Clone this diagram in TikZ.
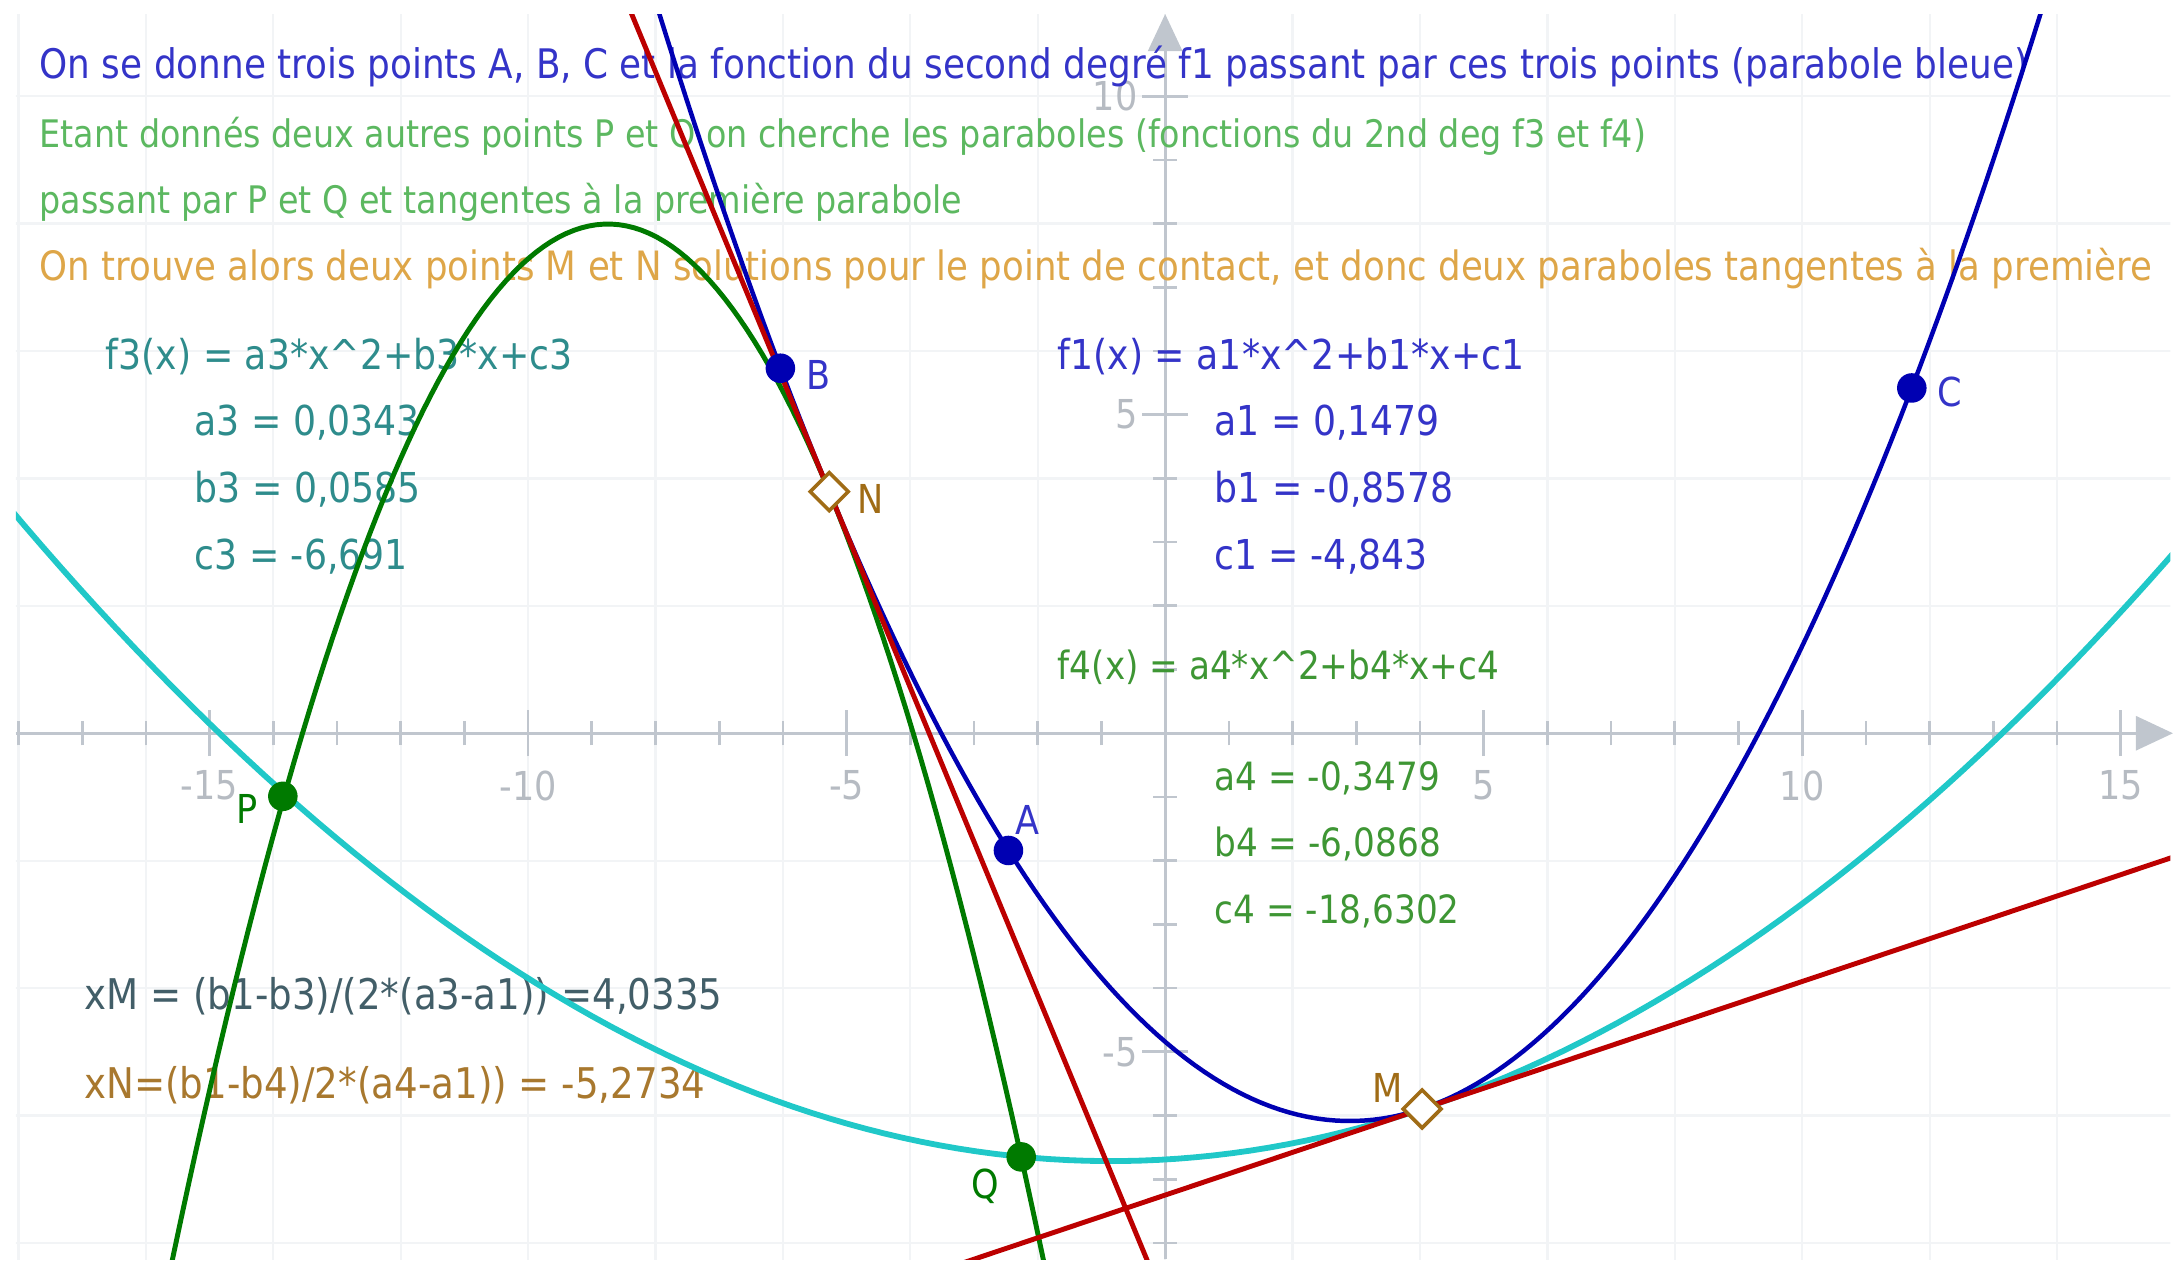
\documentclass[tikz,border=0pt]{standalone}
\usepackage{fontspec}
\setmainfont[FakeStretch=0.88]{DejaVu Sans}
\usepackage{tikz}
\usetikzlibrary{positioning,arrows.meta,shapes.geometric}

\definecolor{gridgray}{RGB}{242,244,246}
\definecolor{axisgray}{RGB}{192,198,206}
\definecolor{ticklab}{RGB}{182,187,194}
\definecolor{fblue}{RGB}{0,0,178}
\definecolor{tblue}{RGB}{52,52,200}
\definecolor{fgreen}{RGB}{0,122,0}
\definecolor{tgreen}{RGB}{92,184,96}
\definecolor{tgreenb}{RGB}{62,150,52}
\definecolor{fcyan}{RGB}{32,200,200}
\definecolor{fred}{RGB}{188,0,0}
\definecolor{torange}{RGB}{222,166,72}
\definecolor{tteal}{RGB}{46,140,140}
\definecolor{tslate}{RGB}{66,94,104}
\definecolor{tbrown}{RGB}{168,120,46}
\definecolor{pbrown}{RGB}{160,108,22}

\tikzset{
  txt/.style={anchor=west, inner sep=0pt, font=\fontsize{#1}{11}\selectfont},
  dotpt/.style={circle, fill=#1, inner sep=0pt, minimum size=6.6pt},
  contact/.style={diamond, draw=pbrown, fill=white, line width=0.8pt, inner sep=0pt, minimum width=8.8pt, minimum height=8.8pt},
  ptlab/.style={inner sep=0pt, text=#1},
  axtip/.style={-{Triangle[length=8.3pt,width=7.6pt]}}
}

\begin{document}
\begin{tikzpicture}[x=0.5cm, y=0.5cm, font=\fontsize{8.9}{10}\selectfont]
  \useasboundingbox (-18.29,-8.40) rectangle (15.82,11.51);
  % grid
  \begin{scope}
    \clip (-18.04,-8.26) rectangle (15.78,11.29);
    \draw[gridgray, line width=0.5pt] (-19,-9) grid (16,12);
  \end{scope}
  % axes
  \draw[axisgray, line width=0.7pt, axtip] (-18.04,0) -- (15.82,0);
  \draw[axisgray, line width=0.7pt, axtip] (0,-8.26) -- (0,11.29);
  \foreach \i in {-18,...,15} {\draw[axisgray, line width=0.6pt] (\i,-0.19) -- (\i,0.19);}
  \foreach \i in {-15,-10,-5,5,10,15} {\draw[axisgray, line width=0.6pt] (\i,-0.36) -- (\i,0.36);}
  \foreach \j in {-8,...,10} {\draw[axisgray, line width=0.6pt] (-0.19,\j) -- (0.19,\j);}
  \foreach \j in {-5,5,10} {\draw[axisgray, line width=0.6pt] (-0.36,\j) -- (0.36,\j);}
  \foreach \i in {-15,-10,-5,5,10,15} {\node[ticklab, inner sep=0pt] (xl\i) at (\i,-0.82) {\i};}
  \foreach \j in {-5,5,10} {\node[ticklab, anchor=east, inner sep=0pt] (yl\j) at (-0.42,\j) {\j};}

  % texts
  \node[txt=9.09, tblue] (l1) at (-17.68,10.46) {On se donne trois points A, B, C et la fonction du second degré f1 passant par ces trois points (parabole bleue)};
  \node[txt=8.47, tgreen] (l2) at (-17.68,9.37) {Etant donnés deux autres points P et Q on cherche les paraboles (fonctions du 2nd deg f3 et f4)};
  \node[txt=8.47, tgreen] (l3) at (-17.68,8.33) {passant par P et Q et tangentes à la première parabole};
  \node[txt=9.03, torange] (l4) at (-17.68,7.30) {On trouve alors deux points M et N solutions pour le point de contact, et donc deux paraboles tangentes à la première};

  \node[txt=9.2, tteal] (f3) at (-16.64,5.91) {f3(x) = a3*x\textasciicircum 2+b3*x+c3};
  \node[txt=9.2, tteal] (a3) at (-15.25,4.87) {a3 = 0,0343};
  \node[txt=9.2, tteal] (b3) at (-15.25,3.83) {b3 = 0,0585};
  \node[txt=9.2, tteal] (c3) at (-15.25,2.78) {c3 = -6,691};

  \node[txt=9.2, tblue] (f1) at (-1.70,5.91) {f1(x) = a1*x\textasciicircum 2+b1*x+c1};
  \node[txt=9.2, tblue] (a1) at (0.76,4.87) {a1 = 0,1479};
  \node[txt=9.2, tblue] (b1) at (0.76,3.83) {b1 = -0,8578};
  \node[txt=9.2, tblue] (c1) at (0.76,2.78) {c1 = -4,843};

  \node[txt=8.7, tgreenb] (f4) at (-1.70,1.04) {f4(x) = a4*x\textasciicircum 2+b4*x+c4};
  \node[txt=8.7, tgreenb] (a4) at (0.76,-0.70) {a4 = -0,3479};
  \node[txt=8.7, tgreenb] (b4) at (0.76,-1.74) {b4 = -6,0868};
  \node[txt=8.7, tgreenb] (c4) at (0.76,-2.79) {c4 = -18,6302};

  \node[txt=9.44, tslate] (xM) at (-16.98,-4.13) {xM = (b1-b3)/(2*(a3-a1)) =4,0335};
  \node[txt=9.44, tbrown] (xN) at (-16.98,-5.52) {xN=(b1-b4)/2*(a4-a1)) = -5,2734};

  % curves
  \begin{scope}
    \clip (-18.04,-8.26) rectangle (15.78,11.29);
    \draw[fcyan, line width=1.3pt] plot[domain=-18.2:16, samples=120] (\x,{0.0343*\x*\x+0.0585*\x-6.691});
    \draw[fgreen, line width=1.1pt] plot[domain=-15.8:-1.7, samples=120] (\x,{-0.3479*\x*\x-6.0868*\x-18.6302});
    \draw[fblue, line width=1pt] plot[domain=-8.1:13.9, samples=150] (\x,{0.1479*\x*\x-0.8578*\x-4.843});
    \draw[fred, line width=1.1pt] plot[domain=-3.6:16, samples=2] (\x,{-5.897+0.3353*(\x-4.0335)});
    \draw[fred, line width=1.1pt] plot[domain=-8.6:-0.2, samples=2] (\x,{3.793-2.4177*(\x+5.2734)});
  \end{scope}

  % points
  \node[dotpt=fblue] (A) at (-2.46,-1.84) {};
  \node[dotpt=fblue] (B) at (-6.04,5.73) {};
  \node[dotpt=fblue] (C) at (11.72,5.42) {};
  \node[dotpt=fgreen] (P) at (-13.85,-0.99) {};
  \node[dotpt=fgreen] (Q) at (-2.26,-6.65) {};
  \node[contact] (N) at (-5.2734,3.793) {};
  \node[contact] (M) at (4.0335,-5.897) {};

  \node[ptlab=tblue, xshift=4.3pt, yshift=6.8pt] (labA) at (A) {A};
  \node[ptlab=tblue, xshift=8.5pt, yshift=-1.4pt] (labB) at (B) {B};
  \node[ptlab=tblue, xshift=8.5pt, yshift=-1pt] (labC) at (C) {C};
  \node[ptlab=fgreen, xshift=-8pt, yshift=-2.8pt] (labP) at (P) {P};
  \node[ptlab=fgreen, xshift=-8pt, yshift=-6.5pt] (labQ) at (Q) {Q};
  \node[ptlab=pbrown, xshift=9.3pt, yshift=-1.6pt] (labN) at (N) {N};
  \node[ptlab=pbrown, xshift=-7.7pt, yshift=4.7pt] (labM) at (M) {M};
\end{tikzpicture}
\end{document}
